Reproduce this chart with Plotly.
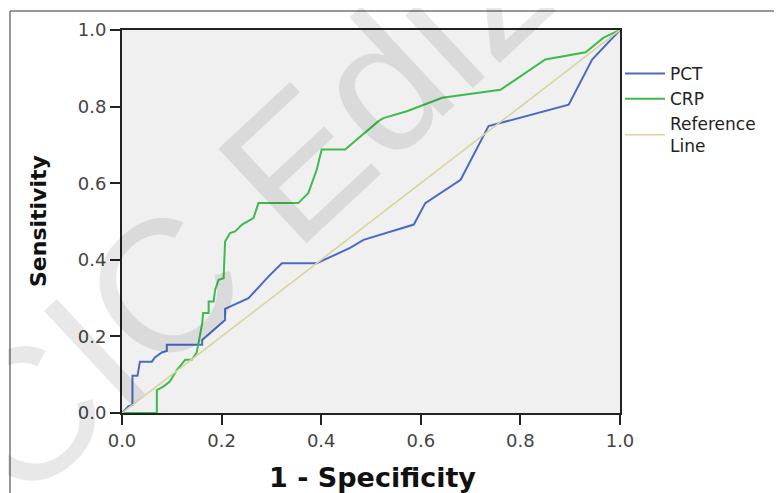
import plotly.graph_objects as go

# ---- data ----
pct_fpr = [0.0, 0.013, 0.021, 0.021, 0.031, 0.036, 0.060, 0.066, 0.080, 0.090, 0.090, 0.161, 0.161,
           0.207, 0.207, 0.254, 0.294, 0.321, 0.391, 0.458, 0.485, 0.586, 0.609, 0.680, 0.736,
           0.897, 0.944, 1.0]
pct_tpr = [0.0, 0.018, 0.021, 0.097, 0.097, 0.134, 0.134, 0.145, 0.158, 0.162, 0.178, 0.178, 0.191,
           0.243, 0.272, 0.300, 0.356, 0.391, 0.391, 0.431, 0.452, 0.492, 0.548, 0.609, 0.749,
           0.805, 0.923, 1.0]

crp_fpr = [0.0, 0.070, 0.070, 0.083, 0.096, 0.110, 0.117, 0.127, 0.140, 0.150, 0.153, 0.161, 0.163,
           0.174, 0.174, 0.184, 0.187, 0.194, 0.204, 0.207, 0.217, 0.227, 0.241, 0.264, 0.274,
           0.354, 0.374, 0.381, 0.391, 0.401, 0.448, 0.515, 0.525, 0.572, 0.643, 0.760, 0.850,
           0.931, 0.967, 1.0]
crp_tpr = [0.0, 0.0, 0.060, 0.069, 0.082, 0.112, 0.123, 0.139, 0.139, 0.158, 0.178, 0.234, 0.261,
           0.261, 0.291, 0.291, 0.322, 0.348, 0.352, 0.448, 0.470, 0.474, 0.492, 0.509, 0.548,
           0.548, 0.574, 0.600, 0.635, 0.688, 0.688, 0.762, 0.770, 0.788, 0.823, 0.844, 0.923,
           0.942, 0.980, 1.0]

ref_x = [0.0, 1.0]
ref_y = [0.0, 1.0]

tick_vals = [0.0, 0.2, 0.4, 0.6, 0.8, 1.0]
tick_text = ["0.0", "0.2", "0.4", "0.6", "0.8", "1.0"]

series_names = ["PCT", "CRP", "Reference<br>Line"]

# ---- figure ----
OFF = 8  # page body margin of the browser
W, H = 782 - OFF, 493 - OFF
ML, MT = 122 - OFF, 30 - OFF
PW, PH = 498, 383
MR, MB = W - ML - PW, H - MT - PH

def px2paper_x(px):  # px = screen pixel
    return (px - OFF - ML) / PW

def px2paper_y(py):
    return (MT + PH - (py - OFF)) / PH

FONT = "DejaVu Sans"

fig = go.Figure()
fig.add_trace(go.Scatter(x=pct_fpr, y=pct_tpr, mode="lines", name=series_names[0],
                         line=dict(color="#4a6bc4", width=2)))
fig.add_trace(go.Scatter(x=crp_fpr, y=crp_tpr, mode="lines", name=series_names[1],
                         line=dict(color="#3dbb4c", width=2)))
fig.add_trace(go.Scatter(x=ref_x, y=ref_y, mode="lines", name=series_names[2],
                         line=dict(color="#d9d49c", width=1.6)))

axis_common = dict(range=[0, 1], tickvals=tick_vals, ticktext=tick_text,
                   ticks="outside", ticklen=10, tickwidth=2, tickcolor="#222",
                   showline=True, linecolor="#222", linewidth=2, mirror=True,
                   showgrid=False, zeroline=False,
                   tickfont=dict(family=FONT, size=18, color="#444"))

fig.update_layout(
    width=W, height=H,
    margin=dict(l=ML, r=MR, t=MT, b=MB, pad=0),
    paper_bgcolor="white", plot_bgcolor="#f0f0f0",
    xaxis=axis_common, yaxis=axis_common,
    showlegend=True,
    legend=dict(x=1.0, xanchor="left", y=px2paper_y(56), yanchor="top",
                font=dict(family=FONT, size=17, color="#222"),
                bgcolor="rgba(0,0,0,0)", itemwidth=40, tracegroupgap=0,
                traceorder="normal"),
    font=dict(family=FONT),
)

# axis titles
fig.add_annotation(text="<b>1 - Specificity</b>", xref="paper", yref="paper",
                   x=px2paper_x(372), y=px2paper_y(477), showarrow=False,
                   xanchor="center", yanchor="middle",
                   font=dict(family=FONT, size=27, color="#111"))
fig.add_annotation(text="<b>Sensitivity</b>", xref="paper", yref="paper",
                   x=px2paper_x(38), y=px2paper_y(221), showarrow=False, textangle=-90,
                   xanchor="center", yanchor="middle",
                   font=dict(family=FONT, size=22, color="#111"))

# watermark
fig.add_annotation(text="CIC Edizioni", xref="paper", yref="paper",
                   x=px2paper_x(354), y=px2paper_y(110), showarrow=False, textangle=-43,
                   xanchor="center", yanchor="middle",
                   font=dict(family="Liberation Sans", size=188, color="rgba(0,0,0,0.09)"))

# outer frame of the original figure (extends beyond the picture)
fig.add_shape(type="rect", xref="paper", yref="paper",
              x0=px2paper_x(10), x1=px2paper_x(900), y0=px2paper_y(600), y1=px2paper_y(11),
              line=dict(color="#333", width=1), fillcolor="rgba(0,0,0,0)", layer="below")

fig.write_html("out.html")
